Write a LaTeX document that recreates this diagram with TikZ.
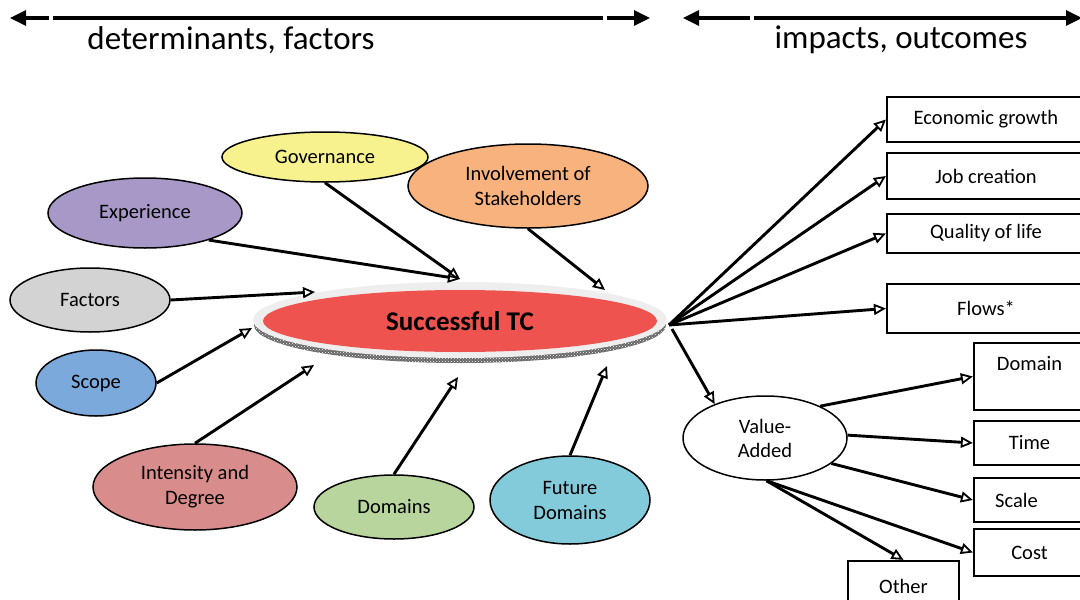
\documentclass[tikz,border=0pt]{standalone}
\usepackage{fontspec}
\setmainfont{Carlito}
\usetikzlibrary{shapes.geometric,arrows.meta,patterns}
\definecolor{cgov}{HTML}{F7F28E}
\definecolor{cinv}{HTML}{F8B27E}
\definecolor{cexp}{HTML}{A898C8}
\definecolor{cfac}{HTML}{D3D3D3}
\definecolor{csco}{HTML}{7CA9DC}
\definecolor{cint}{HTML}{D98C8C}
\definecolor{cdom}{HTML}{B7D59C}
\definecolor{cfut}{HTML}{83CBDA}
\definecolor{ctc}{HTML}{EE534F}
\definecolor{cring}{HTML}{EEEEEE}
\begin{document}
\begin{tikzpicture}[x=1pt,y=-1pt,
  arr/.style={line width=2.9pt,-{Triangle[open,length=12pt,width=11pt,line width=1.8pt]}},
  bub/.style={ellipse,draw=black,line width=1.5pt,inner sep=0pt,align=center,
    font=\fontsize{20.5}{25}\selectfont},
  box/.style={rectangle,draw=black,line width=2.2pt,inner sep=0pt,align=center,
    font=\fontsize{20.5}{22}\selectfont},
  head/.style={inner sep=0pt,font=\fontsize{33}{36}\selectfont},
  ax/.style={line width=3.2pt},
  axtip/.tip={Triangle[length=16pt,width=15pt]}]
\useasboundingbox (0,0) rectangle (1080,600);
\clip (0,0) rectangle (1080,600);

% top axes
\coordinate (a1) at (10,18); \coordinate (a2) at (49,18);
\coordinate (a3) at (53,18); \coordinate (a4) at (603,18);
\coordinate (a5) at (607,18); \coordinate (a6) at (650,18);
\draw[ax,axtip-] (a1) -- (a2);
\draw[ax] (a3) -- (a4);
\draw[ax,-axtip] (a5) -- (a6);
\coordinate (b1) at (683,18); \coordinate (b2) at (750,18);
\coordinate (b3) at (754,18); \coordinate (b4) at (1066,18);
\coordinate (b5) at (1069,18); \coordinate (b6) at (1082,18);
\draw[ax,axtip-] (b1) -- (b2);
\draw[ax] (b3) -- (b4);
\draw[ax,-axtip] (b5) -- (b6);
\node[head] (hl) at (231,40) {determinants, factors};
\node[head] (hr) at (901,40) {impacts, outcomes};

% central node
\fill[black!60] (460,325) ellipse (206pt and 38pt);
\fill[pattern=crosshatch dots,pattern color=white] (460,325) ellipse (206pt and 38pt);
\node[ellipse,fill=cring,inner sep=0pt,minimum width=414pt,minimum height=76pt] (tc) at (460,320) {};
\node[ellipse,fill=ctc,inner sep=0pt,minimum width=394pt,minimum height=62pt,
  font=\fontsize{27}{30}\selectfont\bfseries] (tcin) at (460,321) {Successful TC};

% factor bubbles
\node[bub,fill=cgov,minimum width=206pt,minimum height=50pt] (gov) at (325,157) {Governance};
\node[bub,fill=cinv,minimum width=240pt,minimum height=84pt] (inv) at (528,186) {Involvement of\\Stakeholders};
\node[bub,fill=cexp,minimum width=194pt,minimum height=70pt] (exp) at (145,213) {Experience};
\node[bub,fill=cfac,minimum width=160pt,minimum height=64pt] (fac) at (90,300) {Factors};
\node[bub,fill=csco,minimum width=120pt,minimum height=66pt] (sco) at (96,383) {Scope};
\node[bub,fill=cint,minimum width=204pt,minimum height=86pt] (int) at (195,487) {Intensity and\\Degree};
\node[bub,fill=cdom,minimum width=160pt,minimum height=64pt] (dom) at (394,507) {Domains};
\node[bub,fill=cfut,minimum width=160pt,minimum height=88pt] (fut) at (570,500) {Future\\Domains};

% end points on the central ring
\coordinate (e1) at (460,279);
\coordinate (e2) at (605,290);
\coordinate (e3) at (315,292);
\coordinate (e4) at (252,328);
\coordinate (e5) at (314,365);
\coordinate (e6) at (458,377);
\coordinate (e7) at (607,366);
\draw[arr] (exp.-23) -- (e1);
\draw[arr] (gov.south) -- (e1);
\draw[arr] (inv.south) -- (e2);
\draw[arr] (fac.east) -- (e3);
\draw[arr] (sco.east) -- (e4);
\draw[arr] (int.north) -- (e5);
\draw[arr] (dom.north) -- (e6);
\draw[arr] (fut.north) -- (e7);

% outcome boxes
\node[box,minimum width=198pt,minimum height=45pt] (eco) at (986,119.5) {Economic growth};
\node[box,minimum width=198pt,minimum height=46pt] (job) at (986,176) {Job creation};
\node[box,minimum width=198pt,minimum height=39pt] (qol) at (986,233.5) {Quality of life};
\node[box,minimum width=198pt,minimum height=49pt] (flo) at (986,308.5) {Flows*};
\coordinate (tcr) at (669,325);
\draw[arr] (tcr) -- (eco.west);
\draw[arr] (tcr) -- (job.west);
\draw[arr] (tcr) -- (qol.west);
\draw[arr] (tcr) -- (flo.west);

% value added
\node[bub,fill=white,minimum width=164pt,minimum height=84pt,font=\fontsize{20.5}{24}\selectfont] (va) at (765,438) {Value-\\Added};
\coordinate (tcv) at (672,329);
\draw[arr] (tcv) -- (va.146);

\node[box,minimum width=111pt,minimum height=67pt] (domb) at (1029.5,376.5) {Domain\\[4pt]\mbox{}};
\node[box,minimum width=111pt,minimum height=44pt] (tim) at (1029.5,443) {Time};
\node[box,minimum width=111pt,minimum height=44pt] (sca) at (1029.5,500) {Scale\hspace{26pt}};
\node[box,minimum width=111pt,minimum height=47pt] (cos) at (1029.5,552.5) {Cost};
\node[box,minimum width=111pt,minimum height=50pt] (oth) at (903.5,586) {Other};
\draw[arr] (va.30) -- (domb.west);
\draw[arr] (va.2) -- (tim.west);
\draw[arr] (va.-21) -- (sca.west);
\draw[arr] (va.-88) -- (cos.west);
\draw[arr] (va.-88) -- (oth.north);
\end{tikzpicture}
\end{document}
